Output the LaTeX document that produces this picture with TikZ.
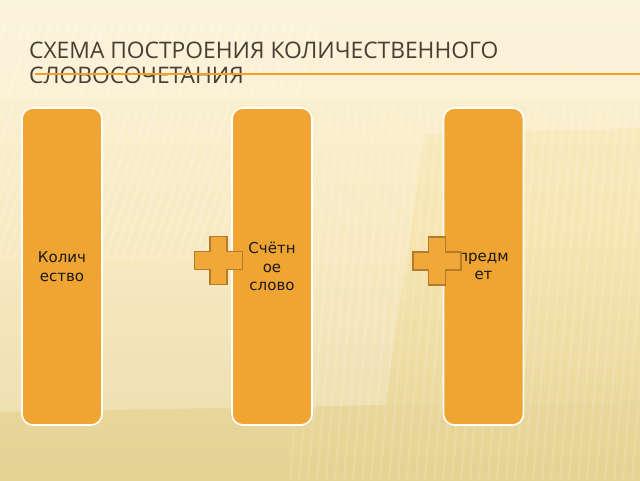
\documentclass[tikz,border=0pt]{standalone}
\usepackage{fontspec}
\setmainfont{DejaVu Sans}
\newfontfamily\titlefont{Open Sans}
\definecolor{bgtop}{RGB}{252,240,204}
\definecolor{bgmid}{RGB}{246,229,178}
\definecolor{bgbot}{RGB}{229,211,148}
\definecolor{boxorange}{RGB}{240,164,50}
\definecolor{plusfill}{RGB}{240,168,56}
\definecolor{plusedge}{RGB}{182,122,44}
\definecolor{titlecol}{RGB}{72,62,52}
\definecolor{rulecol}{RGB}{240,160,45}
\tikzset{
  x=1pt, y=-1pt,
  tallbox/.style={draw=white, line width=1.6pt, fill=boxorange, rounded corners=11pt,
    minimum width=80pt, minimum height=317pt, inner sep=0pt,
    font=\fontsize{15}{18.5}\selectfont, text=black!90, align=center},
  plussign/.pic={
    \path[fill=plusfill, draw=plusedge, line width=1.3pt]
      (-8.5,-24) -- (8.5,-24) -- (8.5,-9) -- (24,-9) -- (24,9) -- (8.5,9)
      -- (8.5,24) -- (-8.5,24) -- (-8.5,9) -- (-24,9) -- (-24,-9) -- (-8.5,-9) -- cycle;
  },
}
\begin{document}
\begin{tikzpicture}
\useasboundingbox (0,0) rectangle (640,480);
% background
\shade[top color=bgtop, bottom color=bgbot, middle color=bgmid] (0,0) rectangle (640,480);
\begin{scope}
  \clip (0,0) rectangle (640,480);
  \fill[white, opacity=0.22] (0,0) -- (640,0) -- (640,128) -- (425,134) -- (385,405) -- (0,412) -- cycle;
  \fill[white, opacity=0.12] (0,0) rectangle (640,100);
  \fill[bgbot, opacity=0.25] (0,412) -- (385,405) -- (640,400) -- (640,480) -- (0,480) -- cycle;
  \foreach \i in {-40,-31,...,330} {
    \draw[white, opacity=0.16, line width=2.5pt] (\i,0) -- (\i-90,260);
  }
  \foreach \i in {330,339,...,680} {
    \draw[white, opacity=0.13, line width=2.5pt] (\i,0) -- (\i-40,480);
  }
\end{scope}
% title
\node[anchor=base west, inner sep=0pt, align=left, text=titlecol,
  font=\titlefont\fontsize{22.8}{24.7}\selectfont] (title) at (29,83)
  {СХЕМА ПОСТРОЕНИЯ КОЛИЧЕСТВЕННОГО\\СЛОВОСОЧЕТАНИЯ};
\coordinate (ruleA) at (35,73.5);
\coordinate (ruleB) at (640,73.5);
\draw[rulecol, line width=2pt] (ruleA) -- (ruleB);
% boxes
\node[tallbox] (b1) at (62,266.5) {Колич\\ество};
\node[tallbox] (b2) at (272,266.5) {Счётн\\ое\\слово};
\node[tallbox] (b3) at (483.5,266.5) {предм\\ет};
% plus signs
\pic at (218.5,260.5) {plussign};
\pic at (437,261) {plussign};
\end{tikzpicture}
\end{document}
